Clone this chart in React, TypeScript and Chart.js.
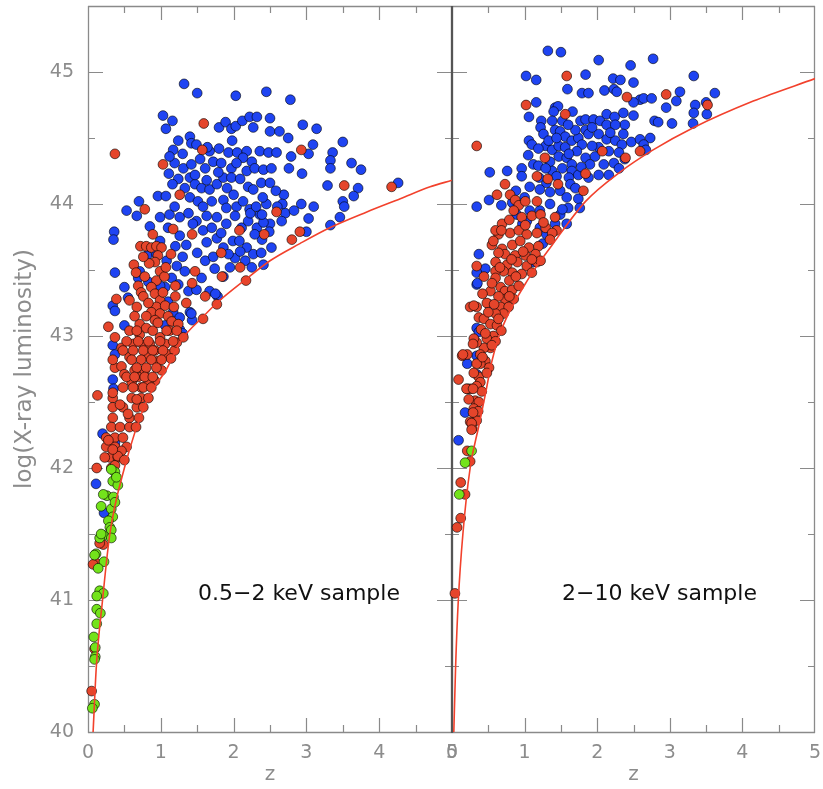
import React, { useEffect, useRef } from 'react';
import { Chart, registerables } from 'chart.js';

Chart.register(...registerables);

type P = [number, number];

// ---------- 0.5-2 keV sample (left panel) ----------
const softBlue: P[] = [
  [1.32, 44.91], [1.50, 44.84], [2.03, 44.82], [2.45, 44.85], [2.78, 44.79],
  [1.03, 44.67], [1.16, 44.63], [1.07, 44.57], [1.80, 44.58], [1.89, 44.62], [1.97, 44.57], [2.03, 44.59], [2.12, 44.63], [2.22, 44.66], [2.32, 44.66], [2.27, 44.58], [2.50, 44.65], [2.50, 44.55], [2.63, 44.55], [2.95, 44.60], [3.14, 44.57],
  [1.24, 44.48], [1.40, 44.51], [1.42, 44.46], [1.49, 44.45], [1.67, 44.40], [1.80, 44.42], [1.93, 44.39], [2.05, 44.39], [2.18, 44.40], [2.13, 44.35], [2.25, 44.32], [2.36, 44.40], [2.48, 44.39], [2.59, 44.39], [2.75, 44.50], [3.09, 44.45], [3.50, 44.47], [3.03, 44.38], [3.36, 44.39], [2.79, 44.36],
  [1.17, 44.41], [1.19, 44.31], [1.31, 44.27], [1.42, 44.30], [1.54, 44.34], [1.61, 44.27], [1.72, 44.32], [1.83, 44.31], [1.97, 44.27], [2.04, 44.31], [2.18, 44.25], [2.29, 44.27], [2.41, 44.26], [2.52, 44.27], [2.76, 44.27], [2.94, 44.23], [3.33, 44.33], [3.33, 44.27], [3.62, 44.31], [3.75, 44.26],
  [1.11, 44.23], [1.24, 44.19], [1.40, 44.20], [1.47, 44.15], [1.56, 44.12], [1.67, 44.11], [1.77, 44.15], [1.86, 44.20], [1.97, 44.20], [2.09, 44.19], [2.20, 44.13], [2.27, 44.11], [2.38, 44.16], [2.50, 44.16], [3.29, 44.14], [3.71, 44.12], [4.26, 44.16],
  [1.16, 44.15], [0.96, 44.06], [1.07, 44.06], [1.40, 44.05], [1.51, 44.02], [1.70, 44.02], [1.86, 44.03], [1.90, 43.97], [2.04, 43.98], [2.13, 44.02], [2.22, 43.96], [2.36, 43.92], [2.45, 44.00], [2.69, 44.07], [2.67, 44.00], [2.93, 44.00], [3.10, 43.98], [3.65, 44.06], [3.50, 44.02], [3.52, 43.98],
  [0.53, 43.95], [0.70, 44.02], [0.67, 43.91], [0.85, 43.83], [0.99, 43.90], [1.12, 43.92], [1.26, 43.90], [1.38, 43.93], [1.49, 43.87], [1.63, 43.91], [1.77, 43.90], [1.90, 43.85], [2.02, 43.91], [2.11, 43.82], [2.20, 43.87], [2.32, 43.82], [2.50, 43.85], [2.41, 43.86], [2.39, 43.92], [2.71, 43.93], [2.66, 43.87], [2.83, 43.95], [3.03, 43.89], [3.46, 43.90], [3.33, 43.84], [3.00, 43.79], [2.49, 43.79], [2.39, 43.73],
  [0.36, 43.79], [0.35, 43.73], [0.99, 43.72], [1.26, 43.76], [1.35, 43.69], [1.63, 43.71], [1.77, 43.74], [1.86, 43.67], [1.99, 43.72], [2.18, 43.67], [2.27, 43.62], [2.38, 43.63], [2.52, 43.67], [2.23, 43.93], [2.29, 43.77], [2.41, 43.54],
  [1.61, 43.57], [1.74, 43.51], [2.02, 43.59], [2.16, 43.57], [2.25, 43.52], [1.08, 43.57], [1.22, 43.53], [1.33, 43.49], [1.15, 43.44], [1.24, 43.39], [1.06, 43.37], [1.56, 43.44], [1.67, 43.34], [1.78, 43.30], [1.38, 43.34], [0.50, 43.37], [0.69, 43.44], [0.71, 43.49], [0.37, 43.48], [0.55, 43.29], [0.34, 43.23], [0.37, 43.19], [0.50, 43.08], [1.17, 43.18], [1.26, 43.14], [1.40, 43.18], [1.43, 43.12], [1.06, 43.08], [1.26, 43.05], [1.30, 43.02], [0.81, 43.61], [0.94, 43.62], [1.49, 43.35], [1.75, 43.32], [1.42, 43.17], [1.10, 43.26], [0.99, 43.38], [0.83, 43.41],
  [1.12, 44.36], [1.30, 44.38], [1.47, 44.22], [1.63, 44.18], [1.79, 44.24], [1.91, 44.12], [2.00, 44.07], [1.58, 43.98], [1.33, 44.12], [1.19, 43.98], [1.44, 43.85], [1.58, 43.80], [1.70, 43.82], [1.83, 43.78], [1.93, 43.62], [2.09, 43.64], [1.10, 43.82], [1.20, 43.68], [1.50, 43.63], [1.72, 43.60], [1.30, 43.60], [1.86, 43.45], [1.95, 43.52], [2.08, 43.72], [1.64, 44.43], [1.98, 44.48], [2.40, 44.05], [2.31, 43.98], [2.58, 44.10], [2.60, 43.98],
  [0.34, 42.93], [0.37, 42.86], [0.34, 42.67], [0.35, 42.60], [0.20, 42.26], [0.37, 42.19], [0.11, 41.88], [0.22, 41.66],
];

const softRed: P[] = [
  [1.59, 44.61], [1.57, 44.41], [0.37, 44.38], [1.03, 44.30], [1.26, 44.07], [2.93, 44.41], [3.52, 44.14], [4.17, 44.13], [0.78, 43.96], [2.59, 43.94], [0.89, 43.77], [1.17, 43.81], [1.43, 43.77], [2.08, 43.80], [2.91, 43.79], [2.80, 43.73], [2.42, 43.77],
  [1.83, 43.63], [2.09, 43.52], [2.17, 43.42], [1.14, 43.62],
  [0.72, 43.68], [0.80, 43.68], [0.87, 43.67], [0.94, 43.68], [1.01, 43.67],
  [1.47, 43.49], [1.84, 43.45], [1.43, 43.40], [1.61, 43.30], [1.77, 43.24], [1.58, 43.13], [1.35, 43.25], [1.20, 43.30], [1.20, 43.38],
  [0.96, 43.61], [0.92, 43.56], [0.99, 43.49], [0.94, 43.42], [0.87, 43.37], [0.92, 43.32], [0.99, 43.27], [0.94, 43.22], [0.87, 43.18], [0.99, 43.17], [1.06, 43.23], [1.10, 43.15], [1.15, 43.11],
  [0.63, 43.54], [0.69, 43.38], [0.73, 43.33], [0.57, 43.27], [0.39, 43.28], [0.67, 43.22], [0.80, 43.15], [0.71, 43.09], [0.57, 43.04], [0.28, 43.07], [0.37, 42.99], [0.46, 42.91], [0.37, 42.76], [0.46, 42.77], [0.50, 42.71],
  [0.66, 43.48], [0.78, 43.45], [0.84, 43.55], [1.05, 43.45], [0.76, 43.30], [0.83, 43.25], [1.03, 43.33], [0.64, 43.15], [0.92, 43.12], [1.18, 43.22], [0.76, 43.60], [1.07, 43.52],
  [0.60, 42.65], [0.69, 42.69], [0.78, 42.74], [0.83, 42.84], [0.76, 42.93], [0.85, 42.94], [0.92, 42.89], [0.96, 42.81], [1.01, 42.74], [0.92, 42.66], [0.83, 42.64], [0.73, 42.61], [0.64, 42.74], [0.57, 42.84], [0.62, 42.94], [0.71, 43.01], [0.80, 43.06], [0.89, 43.04], [0.99, 42.99], [1.06, 42.94], [1.10, 42.86], [1.19, 42.89], [1.14, 42.83], [1.22, 42.95], [1.12, 43.04], [1.31, 42.99], [1.24, 43.09], [0.96, 43.10],
  [0.67, 43.04], [1.08, 43.04], [1.22, 43.04], [0.53, 42.96], [0.69, 42.96], [0.83, 42.96], [0.99, 42.96], [1.17, 42.96], [0.48, 42.89], [0.62, 42.89], [0.76, 42.89], [0.89, 42.89], [1.03, 42.89], [0.34, 42.82], [0.60, 42.82], [0.73, 42.82], [0.87, 42.82], [1.01, 42.82], [0.67, 42.76], [0.80, 42.76], [0.94, 42.76], [0.53, 42.69], [0.64, 42.69], [0.78, 42.69], [0.89, 42.69],
  [0.48, 42.61], [0.62, 42.61], [0.76, 42.61], [0.87, 42.61],
  [0.34, 42.53], [0.60, 42.53], [0.73, 42.53], [0.83, 42.53],
  [0.34, 42.46], [0.48, 42.46], [0.67, 42.46], [0.76, 42.46],
  [0.34, 42.38], [0.57, 42.38], [0.70, 42.38],
  [0.32, 42.31], [0.44, 42.31], [0.57, 42.31], [0.66, 42.31],
  [0.25, 42.23], [0.37, 42.23], [0.48, 42.23],
  [0.25, 42.16], [0.37, 42.16], [0.53, 42.16],
  [0.30, 42.08], [0.41, 42.08], [0.32, 42.00], [0.37, 42.02],
  [0.34, 42.57], [0.44, 42.48], [0.55, 42.41], [0.67, 42.52], [0.28, 42.21], [0.46, 42.13], [0.41, 42.09], [0.50, 42.06], [0.23, 42.08], [0.34, 42.14],
  [0.13, 42.55], [0.12, 42.00], [0.21, 41.42], [0.16, 41.43], [0.11, 41.28], [0.07, 41.27], [0.09, 40.63], [0.05, 40.31],
];

const softGreen: P[] = [
  [0.37, 41.97], [0.32, 41.99], [0.34, 41.90], [0.41, 41.87], [0.39, 41.93], [0.26, 41.79], [0.35, 41.78], [0.21, 41.80], [0.18, 41.71], [0.32, 41.69], [0.37, 41.74], [0.34, 41.63], [0.28, 41.60], [0.30, 41.55], [0.32, 41.53], [0.21, 41.49], [0.16, 41.47], [0.32, 41.47], [0.18, 41.50], [0.11, 41.35], [0.09, 41.34], [0.22, 41.29], [0.14, 41.24], [0.16, 41.07], [0.21, 41.05], [0.12, 41.03], [0.12, 40.93], [0.17, 40.90], [0.12, 40.82], [0.08, 40.72], [0.10, 40.64], [0.10, 40.57], [0.09, 40.55], [0.09, 40.21], [0.06, 40.18],
];

const softLimit: P[] = [
  [0.07, 40.0], [0.115, 40.5], [0.20, 41.0], [0.30, 41.5], [0.50, 42.0], [0.80, 42.5], [1.08, 42.75], [1.30, 42.98], [1.57, 43.14], [1.77, 43.25], [2.17, 43.43], [2.50, 43.57], [2.91, 43.70], [3.32, 43.82], [3.83, 43.94], [4.29, 44.04], [4.70, 44.13], [5.0, 44.18],
];

// ---------- 2-10 keV sample (right panel) ----------
const hardBlue: P[] = [
  [1.32, 45.16], [1.50, 45.15], [2.02, 45.09], [2.46, 45.05], [2.77, 45.10], [1.02, 44.97], [1.16, 44.94], [1.84, 44.98], [3.33, 44.97],
  [1.59, 44.87], [1.79, 44.84], [1.88, 44.84], [2.10, 44.86], [2.22, 44.95], [2.32, 44.94], [2.50, 44.92], [2.23, 44.87], [2.27, 44.85], [2.59, 44.79], [2.64, 44.80], [2.75, 44.80], [3.14, 44.85], [3.62, 44.84], [3.09, 44.78], [2.95, 44.73], [3.50, 44.77], [3.35, 44.75], [2.50, 44.77],
  [1.16, 44.77], [1.06, 44.66], [1.23, 44.63], [1.42, 44.73], [1.46, 44.74], [1.40, 44.70], [1.66, 44.70], [3.33, 44.69], [3.51, 44.68], [3.32, 44.61], [2.50, 44.67], [2.36, 44.69], [2.38, 44.60], [2.79, 44.63], [2.84, 44.62], [3.03, 44.61],
  [1.22, 44.58], [1.38, 44.63], [1.42, 44.56], [1.52, 44.63], [1.49, 44.55], [1.56, 44.51], [1.77, 44.63], [1.84, 44.64], [1.95, 44.64], [2.04, 44.63], [2.13, 44.68], [2.24, 44.66], [2.13, 44.60], [2.25, 44.60],
  [1.06, 44.48], [1.26, 44.53], [1.29, 44.44], [1.38, 44.41], [1.47, 44.44], [1.56, 44.43], [1.65, 44.48], [1.74, 44.50], [1.84, 44.56], [1.88, 44.53], [2.02, 44.53], [2.13, 44.49], [2.25, 44.48], [2.34, 44.45], [2.02, 44.43], [2.16, 44.40], [2.30, 44.39], [1.93, 44.44], [1.79, 44.45], [2.47, 44.47], [2.59, 44.49], [2.73, 44.50], [2.64, 44.45], [2.67, 44.41], [2.38, 44.34],
  [1.05, 44.37], [1.12, 44.30], [1.19, 44.29], [1.35, 44.32], [1.47, 44.36], [1.58, 44.35], [1.65, 44.30], [1.52, 44.27], [1.38, 44.25], [1.29, 44.27], [1.65, 44.25], [1.84, 44.35], [1.97, 44.36], [2.09, 44.30], [2.23, 44.31], [2.30, 44.27], [2.16, 44.22], [2.02, 44.22], [1.88, 44.20], [1.74, 44.22], [1.61, 44.20],
  [1.10, 44.45], [1.19, 44.42], [1.33, 44.48], [1.44, 44.50], [1.70, 44.56], [1.60, 44.60], [1.93, 44.58], [2.18, 44.54], [1.72, 44.40], [1.61, 44.38], [1.90, 44.30], [1.44, 44.21], [1.30, 44.16], [1.20, 44.20], [1.63, 44.15], [0.88, 44.10], [1.00, 44.05], [1.78, 44.28], [2.36, 44.53], [1.25, 43.70], [0.97, 43.85], [1.42, 43.85], [1.58, 43.85],
  [0.52, 44.24], [0.76, 44.25], [0.96, 44.27], [0.96, 44.21], [0.51, 44.03], [0.34, 43.98], [0.68, 43.99], [1.70, 44.12],
  [1.07, 44.13], [1.21, 44.11], [1.35, 44.09], [1.49, 44.10], [1.58, 44.05], [1.35, 44.00], [1.21, 43.95], [1.49, 43.92], [1.60, 43.97], [1.74, 44.04], [1.76, 43.97], [1.07, 43.95], [0.89, 43.92], [1.03, 43.87], [1.21, 43.82], [1.30, 43.77],
  [0.83, 44.01], [1.52, 43.96], [1.12, 43.56], [0.37, 43.62], [0.46, 43.51], [0.34, 43.48], [0.34, 43.39], [0.51, 43.24], [0.34, 43.06], [0.37, 43.03], [0.21, 42.79], [0.34, 42.85], [0.34, 42.71], [0.18, 42.42], [0.09, 42.21], [0.35, 43.40],
];

const hardRed: P[] = [
  [1.58, 44.97], [1.02, 44.75], [2.41, 44.81], [2.95, 44.83], [3.52, 44.75], [1.56, 44.68], [0.34, 44.44], [1.28, 44.35], [2.07, 44.40], [2.39, 44.35], [2.59, 44.40], [1.84, 44.23], [1.17, 44.21], [1.32, 44.19], [1.46, 44.15], [1.81, 44.10], [0.73, 44.15], [0.62, 44.07], [0.80, 44.07], [0.87, 44.03], [0.92, 43.99], [1.01, 44.02], [1.17, 44.02], [1.42, 43.90], [1.44, 43.80],
  [0.85, 43.95], [0.96, 43.90], [1.10, 43.91], [1.22, 43.92], [0.69, 43.85], [0.80, 43.78], [0.92, 43.80], [1.03, 43.77], [1.17, 43.78], [1.29, 43.82], [1.38, 43.78], [1.35, 43.73], [0.64, 43.77], [0.55, 43.69], [0.69, 43.66], [0.83, 43.69], [0.94, 43.72], [1.06, 43.67], [1.19, 43.68], [1.15, 43.62], [1.01, 43.61], [0.87, 43.61], [0.73, 43.62], [0.64, 43.63],
  [0.60, 43.56], [0.76, 43.54], [0.90, 43.56], [1.03, 43.53], [1.17, 43.56], [1.22, 43.57], [1.10, 43.48], [0.96, 43.47], [0.83, 43.48], [0.71, 43.49], [0.60, 43.49], [0.34, 43.53], [0.44, 43.45], [0.60, 43.44], [0.53, 43.34], [0.67, 43.37], [0.73, 43.34], [0.83, 43.35], [0.92, 43.38], [0.85, 43.28], [0.73, 43.28], [0.67, 43.22], [0.78, 43.22], [0.71, 43.17], [0.60, 43.17], [0.48, 43.25], [0.25, 43.22], [0.34, 43.22], [0.37, 43.14], [0.44, 43.13], [0.53, 43.09], [0.62, 43.08], [0.68, 43.04], [0.57, 43.00], [0.48, 42.98], [0.60, 42.96], [0.53, 42.91], [0.44, 42.91], [0.34, 42.95], [0.30, 42.98], [0.39, 42.86], [0.46, 42.81], [0.51, 42.76], [0.39, 42.79], [0.34, 42.79], [0.14, 42.85], [0.21, 42.86], [0.09, 42.67], [0.37, 42.69], [0.39, 42.65], [0.34, 42.62], [0.25, 42.60], [0.21, 42.60], [0.32, 42.51], [0.37, 42.50], [0.30, 42.45], [0.34, 42.36], [0.25, 42.35], [0.28, 42.30],
  [0.79, 43.88], [1.01, 43.84], [1.26, 43.86], [0.60, 43.80], [0.98, 43.64], [1.10, 43.58], [0.82, 43.58], [0.66, 43.52], [0.55, 43.40], [0.79, 43.42], [0.88, 43.45], [0.64, 43.30], [0.79, 43.30], [0.42, 43.32], [0.58, 43.24], [0.50, 43.18], [0.64, 43.13], [0.40, 43.05], [0.46, 43.02], [0.55, 42.93], [0.42, 42.84], [0.48, 42.72], [0.30, 42.72], [0.41, 42.58], [0.23, 42.52], [0.36, 42.43],
  [0.30, 43.23], [0.57, 43.72], [0.68, 43.80], [0.15, 42.86], [0.29, 42.94],
  [0.20, 42.60], [0.29, 42.60], [0.29, 42.42], [0.27, 42.34], [0.27, 42.29], [0.21, 42.13], [0.25, 42.05], [0.12, 41.89], [0.18, 41.80], [0.12, 41.62], [0.07, 41.55], [0.04, 41.05],
];

const hardGreen: P[] = [[0.27, 42.13], [0.18, 42.04], [0.10, 41.80]];

const hardLimit: P[] = [
  [0.025, 40.0], [0.05, 40.5], [0.087, 41.0], [0.15, 41.5], [0.25, 42.0], [0.37, 42.32], [0.46, 42.56], [0.55, 42.81], [0.69, 43.06], [1.06, 43.44], [1.38, 43.69], [1.84, 44.02], [2.31, 44.24], [2.77, 44.41], [3.33, 44.58], [4.15, 44.78], [5.0, 44.95],
];

// tick values
const zTicks = [0, 0.5, 1, 1.5, 2, 2.5, 3, 3.5, 4, 4.5, 5];
const lumTicks = [40, 40.5, 41, 41.5, 42, 42.5, 43, 43.5, 44, 44.5, 45, 45.5];

const BLUE = '#1f44f2';
const RED = '#e5452b';
const GREEN = '#73e31b';
const LIMIT = '#f2412c';
const AXIS_GREY = '#8a8a8a';
const LABEL_GREY = '#8c8c8c';
const FONT = "'DejaVu Sans', sans-serif";

const toXY = (arr: P[]) => arr.map(([x, y]) => ({ x, y }));

function pointsDataset(arr: P[], color: string, order: number) {
  return {
    type: 'scatter' as const,
    data: toXY(arr),
    pointRadius: 4.9,
    pointBorderWidth: 1,
    pointBackgroundColor: color,
    pointBorderColor: 'rgba(0,0,0,0.6)',
    showLine: false,
    clip: false as any,
    order,
  };
}

function limitDataset(arr: P[]) {
  return {
    type: 'line' as const,
    data: toXY(arr),
    borderColor: LIMIT,
    borderWidth: 1.6,
    pointRadius: 0,
    fill: false,
    cubicInterpolationMode: 'monotone' as const,
    order: 0,
  };
}

function framePlugin(leftColor: string, rightColor: string) {
  return {
    id: 'frameTicks',
    beforeDatasetsDraw(chart: any) {
      const { ctx, chartArea } = chart;
      const { left, right, top, bottom } = chartArea;
      const xs = chart.scales.x;
      const ys = chart.scales.y;
      ctx.save();
      ctx.lineWidth = 1.2;
      ctx.strokeStyle = AXIS_GREY;
      ctx.beginPath();
      zTicks.forEach((v) => {
        if (v <= xs.min || v >= xs.max) return;
        const px = Math.round(xs.getPixelForValue(v)) + 0.5;
        const len = Number.isInteger(v) ? 14 : 7;
        ctx.moveTo(px, bottom);
        ctx.lineTo(px, bottom - len);
        ctx.moveTo(px, top);
        ctx.lineTo(px, top + len);
      });
      lumTicks.forEach((v) => {
        if (v <= ys.min || v >= ys.max) return;
        const py = Math.round(ys.getPixelForValue(v)) + 0.5;
        const len = Number.isInteger(v) ? 15 : 7;
        ctx.moveTo(left, py);
        ctx.lineTo(left + len, py);
        ctx.moveTo(right, py);
        ctx.lineTo(right - len, py);
      });
      ctx.stroke();
      ctx.lineWidth = 1.3;
      ctx.strokeStyle = AXIS_GREY;
      ctx.beginPath();
      ctx.moveTo(left, top + 0.5);
      ctx.lineTo(right, top + 0.5);
      ctx.moveTo(left, bottom + 0.5);
      ctx.lineTo(right, bottom + 0.5);
      ctx.stroke();
      ctx.strokeStyle = leftColor;
      ctx.beginPath();
      ctx.moveTo(Math.round(left) + 0.5, top);
      ctx.lineTo(Math.round(left) + 0.5, bottom + 1);
      ctx.stroke();
      ctx.strokeStyle = rightColor;
      ctx.beginPath();
      ctx.moveTo(Math.round(right) - 0.5, top);
      ctx.lineTo(Math.round(right) - 0.5, bottom + 1);
      ctx.stroke();
      ctx.restore();
    },
  };
}

function xScale() {
  return {
    type: 'linear' as const,
    min: 0,
    max: 5,
    ticks: {
      stepSize: 1,
      autoSkip: false,
      maxRotation: 0,
      color: LABEL_GREY,
      font: { family: FONT, size: 19 },
      padding: 10,
    },
    grid: { display: false, drawTicks: false },
    border: { display: false },
    title: {
      display: true,
      text: 'z',
      color: LABEL_GREY,
      font: { family: FONT, size: 20 },
      padding: { top: 0, bottom: 2 },
    },
    afterFit: (s: any) => {
      s.height = 57;
      s.paddingLeft = 0;
      s.paddingRight = 0;
    },
  };
}

export default function App() {
  const leftRef = useRef<HTMLCanvasElement | null>(null);
  const rightRef = useRef<HTMLCanvasElement | null>(null);

  useEffect(() => {
    if (!leftRef.current || !rightRef.current) return;

    const left = new Chart(leftRef.current, {
      type: 'scatter',
      data: {
        datasets: [
          limitDataset(softLimit),
          pointsDataset(softGreen, GREEN, 1),
          pointsDataset(softRed, RED, 2),
          pointsDataset(softBlue, BLUE, 3),
        ] as any,
      },
      options: {
        responsive: false,
        maintainAspectRatio: false,
        animation: false,
        events: [],
        layout: { padding: { left: 0, right: 18, top: 6, bottom: 0 } },
        plugins: { legend: { display: false }, tooltip: { enabled: false } },
        scales: {
          x: xScale() as any,
          y: {
            type: 'linear',
            min: 40,
            max: 45.5,
            ticks: {
              stepSize: 1,
              includeBounds: false,
              color: LABEL_GREY,
              font: { family: FONT, size: 19 },
              padding: 14,
            },
            grid: { display: false, drawTicks: false },
            border: { display: false },
            title: {
              display: true,
              text: 'log(X-ray luminosity)',
              color: LABEL_GREY,
              font: { family: FONT, size: 23 },
              padding: { top: 11, bottom: 0 },
            },
            afterFit: (s: any) => {
              s.width = 88;
              s.paddingTop = 0;
              s.paddingBottom = 0;
            },
          } as any,
        },
      },
      plugins: [framePlugin(AXIS_GREY, '#555')],
    });

    const right = new Chart(rightRef.current, {
      type: 'scatter',
      data: {
        datasets: [
          limitDataset(hardLimit),
          pointsDataset(hardGreen, GREEN, 1),
          pointsDataset(hardRed, RED, 2),
          pointsDataset(hardBlue, BLUE, 3),
        ] as any,
      },
      options: {
        responsive: false,
        maintainAspectRatio: false,
        animation: false,
        events: [],
        layout: { padding: { left: 12, right: 8, top: 6, bottom: 0 } },
        plugins: { legend: { display: false }, tooltip: { enabled: false } },
        scales: {
          x: xScale() as any,
          y: {
            type: 'linear',
            display: false,
            min: 40,
            max: 45.5,
          } as any,
        },
      },
      plugins: [framePlugin('#555', AXIS_GREY)],
    });

    return () => {
      left.destroy();
      right.destroy();
    };
  }, []);

  const labelStyle: React.CSSProperties = {
    position: 'absolute',
    top: 582,
    fontFamily: FONT,
    fontSize: 22,
    lineHeight: '22px',
    color: '#111',
    whiteSpace: 'nowrap',
  };

  return (
    <div style={{ position: 'absolute', left: 0, top: 0, width: 823, height: 789, background: '#fff', overflow: 'hidden' }}>
      <canvas ref={leftRef} width={470} height={789} style={{ position: 'absolute', left: 0, top: 0, width: 470, height: 789 }} />
      <canvas ref={rightRef} width={383} height={789} style={{ position: 'absolute', left: 440, top: 0, width: 383, height: 789 }} />
      <div style={{ ...labelStyle, left: 198 }}>0.5−2 keV sample</div>
      <div style={{ ...labelStyle, left: 562 }}>2−10 keV sample</div>
    </div>
  );
}
